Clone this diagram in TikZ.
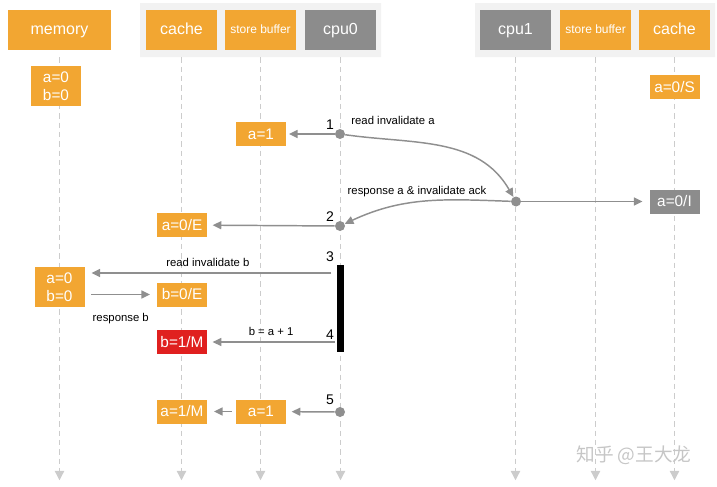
\documentclass[tikz,border=0pt]{standalone}
\usepackage{fontspec}
\setmainfont{Liberation Sans}
\newfontfamily\cjk{Noto Sans CJK SC}
\usetikzlibrary{arrows.meta}
\definecolor{boxorange}{HTML}{F2A632}
\definecolor{cpugray}{HTML}{8C8C8C}
\definecolor{boxred}{HTML}{E0201F}
\definecolor{panelgray}{HTML}{F2F2F2}
\definecolor{msggray}{HTML}{8F8F8F}
\definecolor{lifegray}{HTML}{CCCCCC}
\begin{document}
\begin{tikzpicture}[x=0.75pt, y=-0.75pt, >={Triangle[length=6.5pt,width=6pt]}, font=\fontsize{8.5}{10}\selectfont, line join=round,
	head/.style={fill=boxorange, text=white, minimum width=53.25pt, minimum height=30pt, inner sep=0pt, text height=8.6pt, text depth=2.5pt, font=\fontsize{12}{14}\selectfont},
	cpuhead/.style={head, fill=cpugray},
	sbhead/.style={head, text height=6.5pt, text depth=1.9pt, font=\fontsize{9}{11}\selectfont},
	val/.style={fill=boxorange, text=white, minimum width=37.5pt, minimum height=18pt, inner sep=0pt, font=\fontsize{11.5}{13.5}\selectfont},
	valpair/.style={val, minimum height=30pt, align=center},
	dot/.style={circle, fill=msggray, inner sep=0pt, minimum size=7.5pt},
	msg/.style={->, draw=msggray, line width=1.1pt},
	life/.style={draw=lifegray, line width=0.9pt, dash pattern=on 4pt off 3pt, -{Triangle[length=7pt,width=7pt,fill=lifegray]}},
	num/.style={font=\fontsize{10.5}{12}\selectfont, inner sep=0pt}]
	\useasboundingbox (0,0) rectangle (717,486);
	\fill[panelgray] (140,3) rectangle (381,57) (475,3) rectangle (715,57);
	\node[head, minimum width=77.25pt] (mem) at (59.5,30) {memory};
	\node[head] (cache0) at (181.5,30) {cache};
	\node[sbhead] (sb0) at (260.5,30) {store buffer};
	\node[cpuhead] (cpu0) at (340.5,30) {cpu0};
	\node[cpuhead] (cpu1) at (515.5,30) {cpu1};
	\node[sbhead] (sb1) at (595.5,30) {store buffer};
	\node[head] (cache1) at (674.5,30) {cache};
	\foreach \n in {mem,cache0,sb0,cpu0,cpu1,sb1,cache1}
		\draw[life] (\n.south) ++(0,7) -- ++(0,423);
	\node[valpair] (m0) at (56,86) {a=0\\b=0};
	\node[val] (c1s) at (674.5,87) {a=0/S};
	% 1
	\node[dot] (p1) at (340,134) {};
	\node[num] at (330,125) {1};
	\node[val] (sb0a) at (261,134) {a=1};
	\draw[msg, shorten >=2pt] (p1) -- (sb0a);
	\node[dot] (q1) at (516,201.5) {};
	\draw[msg] (p1) to[out=-8, in=120] (q1);
	\node at (393,120) {read invalidate a};
	% 2
	\node[val, fill=cpugray] (c1i) at (674.5,201.5) {a=0/I};
	\draw[msg, shorten >=5pt] (q1) -- (c1i);
	\node[dot] (p2) at (340,226) {};
	\draw[msg] (q1) to[out=178, in=25] (p2);
	\node at (417,192) {response a \& invalidate ack};
	\node[num] at (330,217) {2};
	\node[val] (c0e) at (182,225) {a=0/E};
	\draw[msg, shorten >=4pt] (p2) -- (c0e);
	% 3
	\node[num] at (330,257) {3};
	\node[fill=black, minimum width=5.5pt, minimum height=65pt, inner sep=0pt] (bar) at (340.5,308.5) {};
	\node[valpair] (m1) at (59.5,287) {a=0\\b=0};
	\coordinate (r3) at (331,273);
	\draw[msg, shorten >=5pt] (r3) -- (r3 -| m1.east) node[midway, above=1pt] {read invalidate b};
	\node[val] (c0b) at (182,294.5) {b=0/E};
	\draw[msg, shorten <=5pt, shorten >=5pt] (m1.east |- c0b.west) -- (c0b.west) node[midway, below=10pt] {response b};
	% 4
	\node[num] at (330,335) {4};
	\node[val, fill=boxred] (c0m) at (182,342) {b=1/M};
	\coordinate (r4) at (335,342);
	\draw[msg, shorten >=4pt] (r4) -- (c0m) node[midway, above=1pt] {b = a + 1};
	% 5
	\node[dot] (p5) at (340,412) {};
	\node[num] at (330,400) {5};
	\node[val] (sb0b) at (261,411.5) {a=1};
	\node[val] (c0a) at (182,411.5) {a=1/M};
	\draw[msg, shorten >=4pt] (p5) -- (sb0b);
	\draw[msg, shorten <=3pt, shorten >=5pt] (sb0b) -- (c0a);
	\node[text=gray!45, font=\cjk\fontsize{14}{16}\selectfont] at (634,455) {知乎 @王大龙};
\end{tikzpicture}
\end{document}
